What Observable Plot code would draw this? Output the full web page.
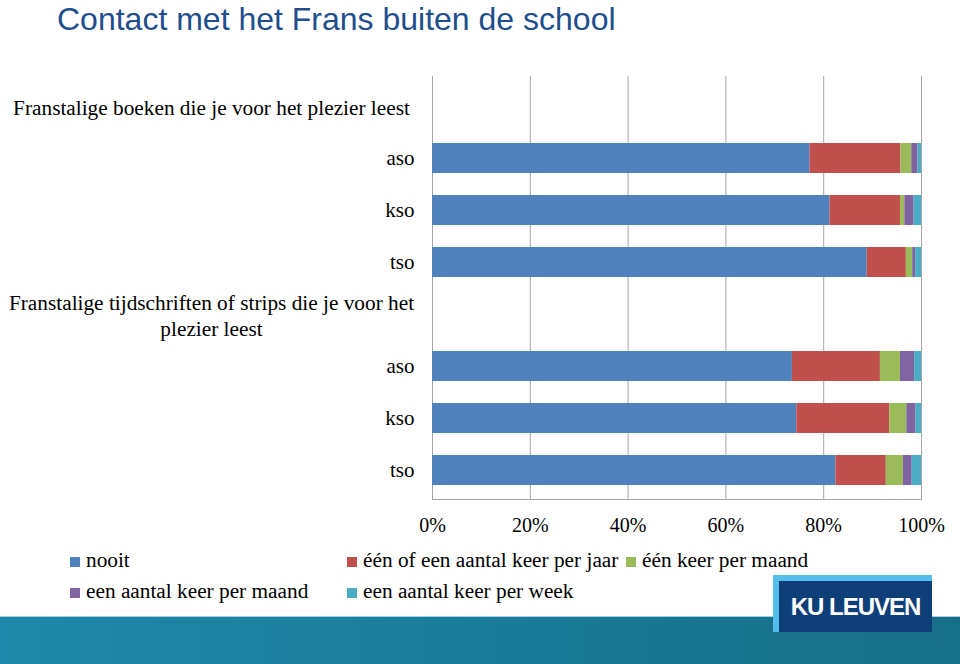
<!DOCTYPE html>
<html>
<head>
<meta charset="utf-8">
<script src="https://cdn.jsdelivr.net/npm/d3@7"></script>
<script src="https://cdn.jsdelivr.net/npm/@observablehq/plot@0.6"></script>
<style>
  html, body { margin: 0; padding: 0; background: #fff; }
  #root { position: relative; width: 960px; height: 664px; overflow: hidden; background: #fff; }
  #title { position: absolute; left: 57px; top: 0px; font-family: "Liberation Sans", Arial, sans-serif; font-size: 32px; line-height: 38px; color: #1f4e8c; white-space: nowrap; }
  #chart { position: absolute; left: 0; top: 0; line-height: 0; }
  #legend { position: absolute; left: 70px; top: 545px; display: grid; grid-template-columns: 277px 279px auto; font-family: "Liberation Serif", "Times New Roman", serif; font-size: 21.3px; line-height: 31px; color: #000; }
  .item { display: flex; align-items: center; white-space: nowrap; font-family: "Liberation Serif", "Times New Roman", serif; }
  .sw { width: 10px; height: 10px; margin-right: 6px; flex: none; position: relative; top: 1px; }
  #band { position: absolute; left: 0; top: 616px; width: 960px; height: 48px; background: linear-gradient(to right, #1e89aa, #176e88); border-top: 1px solid #9fd3e2; }
  #logo { position: absolute; left: 773px; top: 575px; width: 159px; height: 57px; background: #55bde9; }
  #logoIn { position: absolute; left: 6px; top: 6px; width: 153px; height: 51px; background: #0e3f78; color: #fff; font-family: "Liberation Sans", Arial, sans-serif; font-weight: bold; font-size: 24px; letter-spacing: -1px; display: flex; align-items: center; justify-content: center; }
</style>
</head>
<body>
<div id="root">
  <div id="title">Contact met het Frans buiten de school</div>
  <div id="chart"></div>
  <div id="legend"></div>
  <div id="band"></div>
  <div id="logo"><div id="logoIn">KU LEUVEN</div></div>
</div>
<script>
// ---- data ----
const groups = [
  "Franstalige boeken die je voor het plezier leest",
  "Franstalige tijdschriften of strips die je voor het\nplezier leest"
];
const levels = ["aso", "kso", "tso"];
const series = [
  "nooit",
  "één of een aantal keer per jaar",
  "één keer per maand",
  "een aantal keer per maand",
  "een aantal keer per week"
];
const colors = ["#4f81bd", "#c0504d", "#9bbb59", "#8064a2", "#4bacc6"];
// rows: boeken aso, kso, tso, tijdschriften aso, kso, tso (percent)
const nooit              = [77.2, 81.3, 88.9, 73.6, 74.5, 82.5];
const eenOfAantalPerJaar = [18.6, 14.4,  8.0, 18.0, 19.0, 10.3];
const eenKeerPerMaand    = [ 2.2,  0.9,  1.3,  4.1,  3.5,  3.5];
const aantalPerMaand     = [ 1.3,  1.9,  0.6,  2.9,  1.9,  1.8];
const aantalPerWeek      = [ 0.7,  1.5,  1.2,  1.4,  1.1,  1.9];
const xTicks = [0, 20, 40, 60, 80, 100];

// ---- build table ----
const seriesValues = [nooit, eenOfAantalPerJaar, eenKeerPerMaand, aantalPerMaand, aantalPerWeek];
const rowKeys = groups.flatMap((g, gi) => ["H" + gi, ...levels.map(l => gi + "|" + l)]);
const barKeys = groups.flatMap((g, gi) => levels.map(l => gi + "|" + l));
const headers = groups.map((g, gi) => ({key: "H" + gi, label: g}));
const data = [];
series.forEach((s, si) => barKeys.forEach((k, ri) => data.push({row: k, series: s, value: seriesValues[si][ri]})));

const chart = Plot.plot({
  width: 960,
  height: 540,
  marginTop: 76,
  marginBottom: 41,
  marginLeft: 432,
  marginRight: 39,
  style: {fontFamily: "'Liberation Serif','Times New Roman',serif", fontSize: "20px", color: "#000", background: "transparent", overflow: "visible"},
  x: {domain: [0, 100]},
  y: {domain: rowKeys, paddingInner: 0.43, paddingOuter: 0.215},
  color: {domain: series, range: colors},
  marks: [
    Plot.gridX(xTicks, {stroke: "#a6a6a6", strokeOpacity: 1}),
    Plot.frame({anchor: "bottom", stroke: "#a6a6a6"}),
    Plot.barX(data, Plot.stackX({y: "row", x: "value", fill: "series"})),
    Plot.axisX(xTicks, {tickSize: 0, tickPadding: 18, tickFormat: d => d + "%", label: null, fontSize: 20}),
    Plot.axisY({tickSize: 0, tickPadding: 18, tickFormat: k => k.startsWith("H") ? "" : k.split("|")[1], label: null, fontSize: 21}),
    Plot.text(headers, {y: "key", text: "label", frameAnchor: "left", dx: -221, textAnchor: "middle", lineHeight: 1.22, fontSize: 21.3, fill: "#000"})
  ]
});
document.getElementById("chart").appendChild(chart);

// ---- legend ----
const legend = document.getElementById("legend");
series.forEach((s, i) => {
  const item = document.createElement("div");
  item.className = "item";
  const sw = document.createElement("span");
  sw.className = "sw";
  sw.style.background = colors[i];
  const t = document.createElement("span");
  t.textContent = s;
  item.appendChild(sw);
  item.appendChild(t);
  legend.appendChild(item);
});
</script>
</body>
</html>
